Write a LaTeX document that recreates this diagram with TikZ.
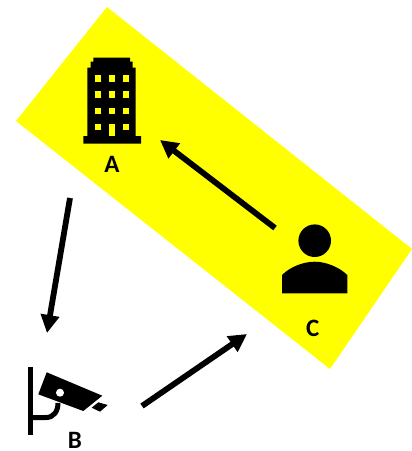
\documentclass[tikz,border=0pt]{standalone}
\usepackage{fontspec}
\setmainfont{Carlito}
\usetikzlibrary{arrows.meta}
\definecolor{zone}{HTML}{FFFF00}
\tikzset{
  lbl/.style={font=\fontsize{25}{25}\selectfont\bfseries,inner sep=0pt},
  flow/.style={-{Triangle[length=18pt,width=18pt]},black,line width=5.8pt},
  icon/.style={fill=black,draw=none},
  hole/.style={fill=zone,draw=none},
}
\begin{document}
\begin{tikzpicture}[x=1pt,y=-1pt]
\useasboundingbox (0,0) rectangle (412,451);
\fill[zone] (107,7) -- (412,249) -- (330,369) -- (16,121) -- cycle;
% building
\fill[icon] (83.3,143.5) -- (83.3,136) -- (87.3,136) -- (87.3,67.7) -- (90.7,67.7) -- (90.7,61.7) -- (93.3,61.7) -- (93.3,57.7)
  -- (130,57.7) -- (130,61.7) -- (132.7,61.7) -- (132.7,67.7) -- (135.7,67.7) -- (135.7,136) -- (141,136) -- (141,143.5) -- cycle;
\foreach \wx in {97.7,111.7,126} \foreach \wy in {78.3,94.3,110.7}
  \fill[hole] (\wx-3.2,\wy-3.2) rectangle (\wx+3.2,\wy+3.2);
\fill[hole] (94.5,123.8) rectangle (100.9,130.2);
\fill[hole] (122.8,123.8) rectangle (129.2,130.2);
\fill[hole] (108.8,124.3) rectangle (114.8,136);
\node[lbl] (a) at (112,164) {A};
% person
\fill[icon] (314.7,240.7) circle (16.3);
\fill[icon] (282,293.3) -- (282,275) .. controls (290,267) and (303,261.7) .. (314.7,261.7)
  .. controls (326,261.7) and (339,267) .. (347.3,275) -- (347.3,293.3) -- cycle;
\node[lbl] (c) at (312.7,328) {C};
% camera
\fill[icon] (27.7,367) rectangle (33,435);
\fill[icon] (46.7,372.3) -- (102.3,395.7) -- (83.3,411) -- (38.3,394.3) -- cycle;
\fill[white] (60,392.7) circle (4);
\fill[icon] (98.3,402.3) -- (107.7,405) -- (100,411.7) -- (91.7,407.7) -- cycle;
\draw[line width=5pt] (33,417.5) -- (46,417.5) .. controls (54,417.5) and (58,411) .. (58,403);
\node[lbl] (b) at (75,440) {B};
% connectors
\coordinate (ca) at (275,228);
\coordinate (ac) at (160,140);
\coordinate (ab) at (70,198);
\coordinate (ba) at (47,333);
\coordinate (bc) at (142,406);
\coordinate (cb) at (247,334);
\draw[flow] (ca) -- (ac);
\draw[flow] (ab) -- (ba);
\draw[flow] (bc) -- (cb);
\end{tikzpicture}
\end{document}
